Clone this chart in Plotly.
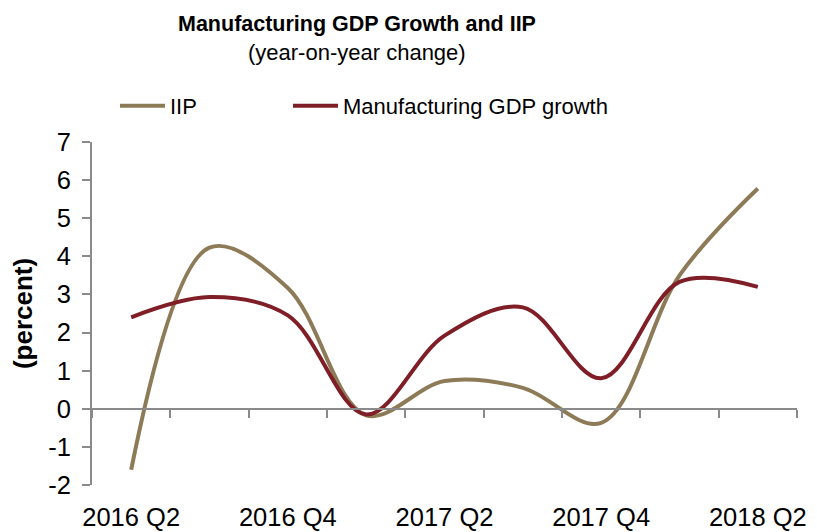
import plotly.graph_objects as go

quarters = ["2016 Q2", "2016 Q3", "2016 Q4", "2017 Q1", "2017 Q2",
            "2017 Q3", "2017 Q4", "2018 Q1", "2018 Q2"]
iip = [-1.6, 4.23, 3.17, -0.17, 0.73, 0.55, -0.37, 3.5, 5.78]
mfg = [2.4, 2.93, 2.45, -0.15, 1.92, 2.66, 0.8, 3.33, 3.2]
tick_labels = ["2016 Q2", "2016 Q4", "2017 Q2", "2017 Q4", "2018 Q2"]
y_ticks = [-2, -1, 0, 1, 2, 3, 4, 5, 6, 7]
y_tick_text = ["-2", "-1", "0", "1", "2", "3", "4", "5", "6", "7"]

FONT = "Liberation Sans, Arial, sans-serif"
AXIS = "#8a8a8a"
OFF = 8  # page body margin
W, H = 817 - OFF, 532 - OFF
ML, MR, MT, MB = 92 - OFF, 20, 142 - OFF, 47
PW, PH = W - ML - MR, H - MT - MB
x_idx = list(range(len(quarters)))
SMOOTH = 1.0


def px_x(px):
    return (px - OFF - ML) / PW


def px_y(py):
    return 1 + (MT - (py - OFF)) / PH


fig = go.Figure()
fig.add_trace(go.Scatter(x=x_idx, y=iip, name="IIP", mode="lines", legend="legend",
                         line=dict(color="#8d7b58", width=4, shape="spline", smoothing=SMOOTH),
                         hovertext=quarters))
fig.add_trace(go.Scatter(x=x_idx, y=mfg, name="Manufacturing GDP growth", mode="lines",
                         legend="legend2",
                         line=dict(color="#7f1e26", width=4, shape="spline", smoothing=SMOOTH),
                         hovertext=quarters))
# invisible trace to host the zero-anchored category axis
fig.add_trace(go.Scatter(x=[x_idx[0]], y=[0], xaxis="x2", mode="markers",
                         marker=dict(opacity=0), showlegend=False, hoverinfo="skip"))

yr = [-2, 7]
leg_common = dict(orientation="h", y=px_y(106), xanchor="left", yanchor="middle",
                  font=dict(size=22), itemwidth=45, bgcolor="rgba(0,0,0,0)",
                  borderwidth=0)
fig.update_layout(
    width=W, height=H,
    margin=dict(l=ML, r=MR, t=MT, b=MB, autoexpand=False),
    paper_bgcolor="white", plot_bgcolor="white",
    font=dict(family=FONT, color="black", size=22),
    showlegend=True,
    legend=dict(x=px_x(120 - 5), **leg_common),
    legend2=dict(x=px_x(295 - 7), **leg_common),
    xaxis=dict(range=[-0.5, len(quarters) - 0.5], tickmode="array",
               tickvals=[0, 2, 4, 6, 8], ticktext=tick_labels,
               showline=False, showgrid=False, zeroline=False, ticks="",
               tickfont=dict(size=25.5), ticklabelstandoff=14),
    xaxis2=dict(overlaying="x", anchor="free", position=(0 - yr[0]) / (yr[1] - yr[0]),
                range=[-0.5, len(quarters) - 0.5], tickmode="array",
                tickvals=[i - 0.5 for i in range(len(quarters) + 1)],
                showticklabels=False, showline=True, linecolor=AXIS, linewidth=2,
                ticks="outside", ticklen=8, tickcolor=AXIS, tickwidth=2,
                showgrid=False, zeroline=False),
    yaxis=dict(range=yr, tickmode="array", tickvals=y_ticks, ticktext=y_tick_text,
               showline=True, linecolor=AXIS, linewidth=2,
               ticks="outside", ticklen=8, tickcolor=AXIS, tickwidth=2,
               showgrid=False, zeroline=False, tickfont=dict(size=25.5),
               ticklabelstandoff=6,
               title=dict(text="<b>(percent)</b>", font=dict(size=26), standoff=8)),
    annotations=[
        dict(text="<b>Manufacturing GDP Growth and IIP</b>", xref="paper", yref="paper",
             x=px_x(357), y=px_y(24), xanchor="center", yanchor="middle",
             showarrow=False, font=dict(size=21.5)),
        dict(text="(year-on-year change)", xref="paper", yref="paper",
             x=px_x(357), y=px_y(52), xanchor="center", yanchor="middle",
             showarrow=False, font=dict(size=22)),
    ],
)

fig.write_html("out.html")
